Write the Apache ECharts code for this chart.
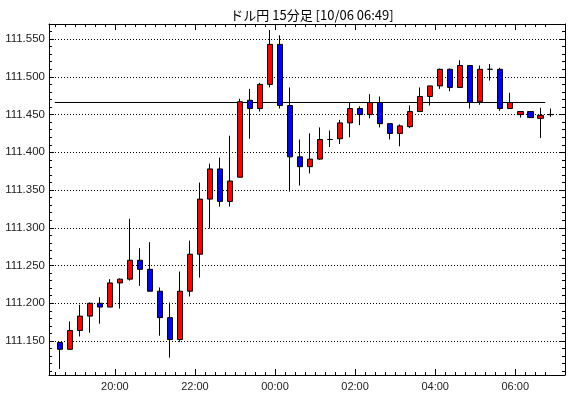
<!DOCTYPE html>
<html>
<head>
<meta charset="utf-8">
<script src="https://cdn.jsdelivr.net/npm/echarts@6/dist/echarts.min.js"></script>
<style>
  html, body { margin: 0; padding: 0; background: #fff; }
  #chart { width: 570px; height: 398px; }
</style>
</head>
<body>
<div id="chart"></div>
<script>
// 15分足 18:30 - 06:45
var times = ['18:30','18:45','19:00','19:15','19:30','19:45','20:00','20:15','20:30','20:45',
             '21:00','21:15','21:30','21:45','22:00','22:15','22:30','22:45','23:00','23:15',
             '23:30','23:45','00:00','00:15','00:30','00:45','01:00','01:15','01:30','01:45',
             '02:00','02:15','02:30','02:45','03:00','03:15','03:30','03:45','04:00','04:15',
             '04:30','04:45','05:00','05:15','05:30','05:45','06:00','06:15','06:30','06:45'];
var opens  = [111.148,111.139,111.164,111.183,111.200,111.195,111.227,111.232,111.257,111.245,
              111.216,111.181,111.152,111.216,111.265,111.338,111.378,111.335,111.367,111.469,
              111.458,111.490,111.543,111.462,111.394,111.381,111.391,111.417,111.418,111.439,
              111.458,111.450,111.466,111.438,111.425,111.434,111.454,111.474,111.488,111.510,
              111.486,111.515,111.467,111.510,111.510,111.458,111.450,111.454,111.445,111.450];
var closes = [111.139,111.164,111.183,111.200,111.195,111.227,111.232,111.257,111.245,111.216,
              111.181,111.152,111.216,111.265,111.338,111.378,111.335,111.362,111.467,111.458,
              111.490,111.543,111.462,111.394,111.381,111.391,111.417,111.417,111.439,111.458,
              111.450,111.466,111.438,111.425,111.435,111.454,111.474,111.488,111.510,111.486,
              111.515,111.466,111.510,111.510,111.458,111.466,111.454,111.446,111.449,111.450];
var lows   = [111.113,111.139,111.156,111.161,111.173,111.195,111.193,111.230,111.223,111.216,
              111.157,111.128,111.149,111.209,111.234,111.299,111.328,111.328,111.367,111.418,
              111.454,111.486,111.458,111.348,111.356,111.372,111.390,111.407,111.411,111.420,
              111.436,111.445,111.433,111.417,111.408,111.432,111.454,111.462,111.484,111.481,
              111.486,111.458,111.463,111.495,111.455,111.458,111.446,111.446,111.419,111.447];
var highs  = [111.149,111.176,111.198,111.201,111.208,111.232,111.233,111.312,111.273,111.281,
              111.221,111.201,111.242,111.283,111.360,111.385,111.393,111.422,111.471,111.484,
              111.492,111.562,111.555,111.486,111.417,111.425,111.433,111.429,111.443,111.466,
              111.461,111.477,111.474,111.438,111.437,111.462,111.486,111.488,111.511,111.511,
              111.522,111.515,111.515,111.517,111.512,111.479,111.454,111.454,111.459,111.458];

var xLabels = ['20:00','22:00','00:00','02:00','04:00','06:00'];
var yLabels = [111.15,111.20,111.25,111.30,111.35,111.40,111.45,111.50,111.55];
var refLevel = 111.466;

var yMin = 111.105, yMax = 111.570;
var xMin = -1.08, xMax = 50.47;

var candles = times.map(function (t, i) {
  return [i, opens[i], closes[i], lows[i], highs[i]];
});

var xMinor = times.map(function (t, i) { return i - 0.5; });
var xMajor = xLabels.map(function (l) { return times.indexOf(l) - 0.5; });
var yMinor = [];
for (var k = 11; k <= 56; k++) yMinor.push(+(111 + k / 100).toFixed(2));

function xLabelOf(v) {
  var idx = xMajor.indexOf(v);
  return idx >= 0 ? xLabels[idx] : '';
}

function xAx(pos, ticks, len, showLine, showLabel) {
  return {
    type: 'value', position: pos, min: xMin, max: xMax,
    axisLine: { show: showLine, onZero: false, lineStyle: { color: '#000', width: 1 } },
    axisTick: { show: true, inside: true, length: len, customValues: ticks,
                lineStyle: { color: '#000', width: 1 } },
    axisLabel: { show: showLabel, customValues: ticks, formatter: xLabelOf,
                 color: '#222', fontSize: 11, fontFamily: 'Liberation Sans', margin: 6 },
    splitLine: { show: false }
  };
}
function yAx(pos, ticks, len, showLine, showLabel) {
  return {
    type: 'value', position: pos, min: yMin, max: yMax,
    axisLine: { show: showLine, onZero: false, lineStyle: { color: '#000', width: 1 } },
    axisTick: { show: true, inside: true, length: len, customValues: ticks,
                lineStyle: { color: '#000', width: 1 } },
    axisLabel: { show: showLabel, customValues: ticks,
                 formatter: function (v) { return v.toFixed(3); },
                 color: '#222', fontSize: 11.5, fontFamily: 'Liberation Sans', margin: 4 },
    splitLine: { show: false }
  };
}

var gridLines = yLabels.map(function (v) {
  return { yAxis: v, lineStyle: { type: [1, 2], color: '#000', width: 1 } };
});
gridLines.push([
  { coord: [-0.5, refLevel], lineStyle: { type: 'solid', color: '#000', width: 1 } },
  { coord: [48.5, refLevel] }
]);

var option = {
  animation: false,
  backgroundColor: '#fff',
  title: {
    text: 'ドル円 15分足 [10/06 06:49]',
    left: 307, top: 4, textAlign: 'center',
    textStyle: { fontSize: 13, fontWeight: 'normal', color: '#000', fontFamily: 'Noto Sans CJK JP' }
  },
  grid: { left: 49, right: 5, top: 24, bottom: 23, containLabel: false },
  xAxis: [
    xAx('bottom', xMinor, 3, true, false),
    xAx('bottom', xMajor, 6, false, true),
    xAx('top', xMinor, 3, true, false),
    xAx('top', xMajor, 6, false, false)
  ],
  yAxis: [
    yAx('left', yMinor, 3, true, false),
    yAx('left', yLabels, 5, false, true),
    yAx('right', yMinor, 3, true, false),
    yAx('right', yLabels, 5, false, false)
  ],
  series: [{
    type: 'candlestick',
    xAxisIndex: 0,
    yAxisIndex: 0,
    z: 3,
    barWidth: 6,
    encode: { x: 0, y: [1, 2, 3, 4] },
    itemStyle: {
      color: '#ff0000', color0: '#0000ff',
      borderColor: '#000', borderColor0: '#000', borderColorDoji: '#000',
      borderWidth: 1
    },
    data: candles,
    markLine: {
      silent: true, z: 1, symbol: 'none', animation: false,
      label: { show: false },
      data: gridLines
    }
  }]
};

var chart = echarts.init(document.getElementById('chart'));
chart.setOption(option);
</script>
</body>
</html>
